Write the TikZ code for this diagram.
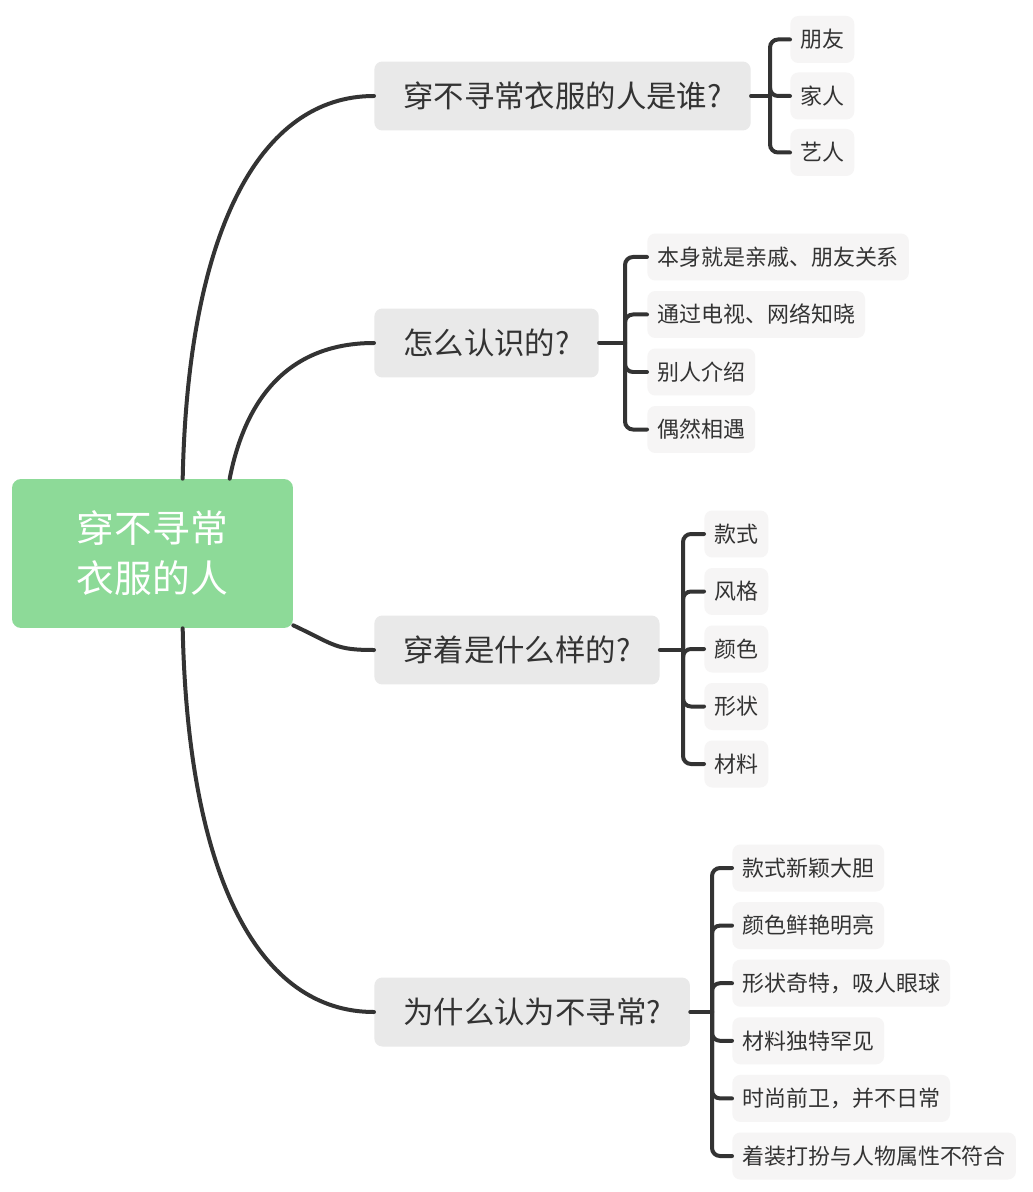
\documentclass[tikz,border=0pt]{standalone}
\usepackage{fontspec}
\setmainfont{Noto Sans CJK SC}
\usetikzlibrary{calc}

\definecolor{rootgreen}{RGB}{141,218,152}
\definecolor{branchgray}{RGB}{233,233,233}
\definecolor{leafgray}{RGB}{246,245,245}
\definecolor{linedark}{RGB}{51,51,51}

\begin{document}
\begin{tikzpicture}[x=0.02cm,y=-0.02cm,
    rootbox/.style={fill=rootgreen,rounded corners=0.18cm,text=white,align=center,
      minimum width=5.62cm,minimum height=2.98cm,font=\fontsize{21.5pt}{28.5pt}\selectfont},
    branch/.style={fill=branchgray,rounded corners=0.16cm,anchor=west,inner xsep=0.58cm,
      minimum height=1.38cm,text=linedark,font=\fontsize{17.3pt}{20pt}\selectfont},
    leaf/.style={fill=leafgray,rounded corners=0.16cm,anchor=west,inner xsep=0.2cm,
      minimum height=0.94cm,text=linedark,font=\fontsize{12.5pt}{15pt}\selectfont},
    link/.style={draw=linedark,line width=0.08cm,line cap=round}]
    \fill[white] (0,0) rectangle (1032,1192);
    \useasboundingbox (0,0) rectangle (1032,1192);

    \node[rootbox] (root) at (152.5,553.5) {穿不寻常\\衣服的人};

    \node[branch] (b1) at (374,96) {穿不寻常衣服的人是谁?};
    \node[branch] (b2) at (374,343) {怎么认识的?};
    \node[branch] (b3) at (374,650) {穿着是什么样的?};
    \node[branch] (b4) at (374,1012) {为什么认为不寻常?};

    % root to branches
    \coordinate (r1) at ($(root.north west)+(171,0)$);
    \coordinate (r2) at ($(root.north west)+(218,0)$);
    \coordinate (r3) at ($(root.south east)+(0,-3)$);
    \coordinate (r4) at ($(root.south west)+(171,0)$);
    \draw[link] (r1) .. controls (188,230) and (260,96) .. (b1.west);
    \draw[link] (r2) .. controls (248,385) and (300,343) .. (b2.west);
    \draw[link] (r3) .. controls (335,645) and (335,650) .. (b3.west);
    \draw[link] (r4) .. controls (188,880) and (260,1012) .. (b4.west);

    % leaves
    \foreach \t [count=\i] in {朋友,家人,艺人}
      \node[leaf] (l1-\i) at (790,{39.5+56.5*(\i-1)}) {\t};
    \foreach \t [count=\i] in {本身就是亲戚、朋友关系,通过电视、网络知晓,别人介绍,偶然相遇}
      \node[leaf] (l2-\i) at (647,{257+57.5*(\i-1)}) {\t};
    \foreach \t [count=\i] in {款式,风格,颜色,形状,材料}
      \node[leaf] (l3-\i) at (704,{534+57.5*(\i-1)}) {\t};
    \foreach \t [count=\i] in {款式新颖大胆,颜色鲜艳明亮,形状奇特，吸人眼球,材料独特罕见,时尚前卫，并不日常,着装打扮与人物属性不符合}
      \node[leaf] (l4-\i) at (732,{868+57.6*(\i-1)}) {\t};

    % brackets
    \coordinate (j1) at (770,96);
    \coordinate (j2) at (625,343);
    \coordinate (j3) at (683,650);
    \coordinate (j4) at (712,1012);
    \draw[link] (b1.east) -- (j1);
    \draw[link] (b2.east) -- (j2);
    \draw[link] (b3.east) -- (j3);
    \draw[link] (b4.east) -- (j4);
    \foreach \i in {1,2,3}
      \draw[link,rounded corners=0.16cm] (j1) |- (l1-\i.west);
    \foreach \i in {1,...,4}
      \draw[link,rounded corners=0.16cm] (j2) |- (l2-\i.west);
    \foreach \i in {1,...,5}
      \draw[link,rounded corners=0.16cm] (j3) |- (l3-\i.west);
    \foreach \i in {1,...,6}
      \draw[link,rounded corners=0.16cm] (j4) |- (l4-\i.west);
  \end{tikzpicture}
\end{document}
